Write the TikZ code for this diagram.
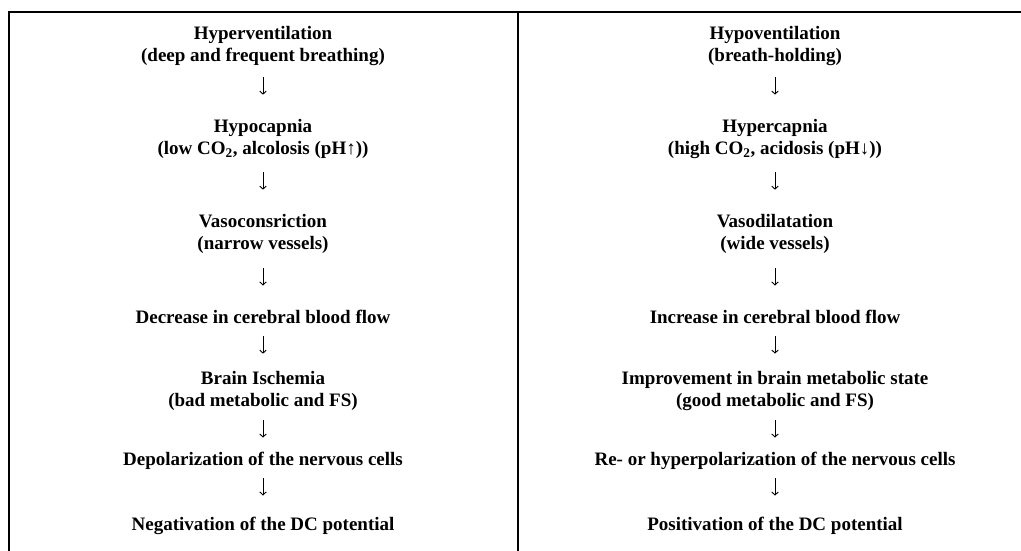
\documentclass[tikz,border=0pt]{standalone}
\usepackage{fontspec}
\setmainfont{Liberation Serif}
\usetikzlibrary{arrows.meta}

\begin{document}
\begin{tikzpicture}[
      x=1pt, y=-1pt,
      stepbox/.style={align=center, inner sep=0pt,
        font=\bfseries\fontsize{19}{22}\selectfont},
      flow/.style={-{Straight Barb[length=3pt,width=6.5pt]}, line width=0.9pt},
      rule/.style={line width=1.6pt}
    ]
    \useasboundingbox (0,0) rectangle (1021,551);

    % table rules
    \draw[rule] (8.8,551) -- (8.8,12) -- (1021,12);
    \draw[rule] (518,12) -- (518,551);

    % left column
    \node[stepbox] (hyper) at (263,46)
      {Hyperventilation\\(deep and frequent breathing)};
    \node[stepbox] (hypocap) at (263,139)
      {Hypocapnia\\(low CO\textsubscript{2}, alcolosis (pH↑))};
    \node[stepbox] (constrict) at (263,234)
      {Vasoconsriction\\(narrow vessels)};
    \node[stepbox] (decrease) at (263,317)
      {Decrease in cerebral blood flow};
    \node[stepbox] (ischemia) at (263,391)
      {Brain Ischemia\\(bad metabolic and FS)};
    \node[stepbox] (depol) at (263,461)
      {Depolarization of the nervous cells};
    \node[stepbox] (negat) at (263,526)
      {Negativation of the DC potential};

    % right column
    \node[stepbox] (hypo) at (775,46)
      {Hypoventilation\\(breath-holding)};
    \node[stepbox] (hypercap) at (775,139)
      {Hypercapnia\\(high CO\textsubscript{2}, acidosis (pH↓))};
    \node[stepbox] (dilate) at (775,234)
      {Vasodilatation\\(wide vessels)};
    \node[stepbox] (increase) at (775,317)
      {Increase in cerebral blood flow};
    \node[stepbox] (improve) at (775,391)
      {Improvement in brain metabolic state\\(good metabolic and FS)};
    \node[stepbox] (repol) at (775,461)
      {Re- or hyperpolarization of the nervous cells};
    \node[stepbox] (posit) at (775,526)
      {Positivation of the DC potential};

    % arrows
    \draw[flow, shorten <=11.5pt, shorten >=24.5pt] (hyper) -- (hypocap);
    \draw[flow, shorten <=13.5pt, shorten >=24.5pt] (hypocap) -- (constrict);
    \draw[flow, shorten <=14.5pt, shorten >=24.5pt] (constrict) -- (decrease);
    \draw[flow, shorten <=12.5pt, shorten >=17.5pt] (decrease) -- (ischemia);
    \draw[flow, shorten <=9.5pt, shorten >=14.5pt] (ischemia) -- (depol);
    \draw[flow, shorten <=8.5pt, shorten >=21.5pt] (depol) -- (negat);

    \draw[flow, shorten <=11.5pt, shorten >=24.5pt] (hypo) -- (hypercap);
    \draw[flow, shorten <=13.5pt, shorten >=24.5pt] (hypercap) -- (dilate);
    \draw[flow, shorten <=14.5pt, shorten >=24.5pt] (dilate) -- (increase);
    \draw[flow, shorten <=12.5pt, shorten >=17.5pt] (increase) -- (improve);
    \draw[flow, shorten <=9.5pt, shorten >=14.5pt] (improve) -- (repol);
    \draw[flow, shorten <=8.5pt, shorten >=21.5pt] (repol) -- (posit);
\end{tikzpicture}
\end{document}
